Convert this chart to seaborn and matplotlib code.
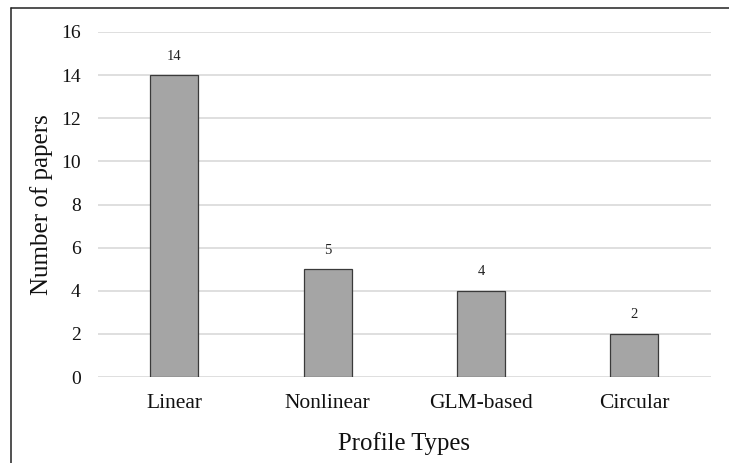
import matplotlib
matplotlib.use("Agg")
import matplotlib.pyplot as plt
import seaborn as sns
import pandas as pd
from matplotlib.lines import Line2D

categories = ["Linear", "Nonlinear", "GLM-based", "Circular"]
counts = [14, 5, 4, 2]
yticks = [0, 2, 4, 6, 8, 10, 12, 14, 16]

df = pd.DataFrame({"Profile Types": categories, "Number of papers": counts})

sns.set_theme(style="white")
plt.rcParams["font.family"] = ["Liberation Serif", "DejaVu Serif"]
plt.rcParams["text.color"] = "#111111"
plt.rcParams["axes.labelcolor"] = "#111111"
plt.rcParams["xtick.color"] = "#111111"
plt.rcParams["ytick.color"] = "#111111"

fig = plt.figure(figsize=(7.29, 4.63), dpi=100)
ax = fig.add_axes([97.5 / 729, 1 - 377 / 463, (711 - 97.5) / 729, (377 - 32) / 463])

sns.barplot(data=df, x="Profile Types", y="Number of papers", color="#A5A5A5",
            width=0.313, edgecolor="#3a3a3a", linewidth=0.9, ax=ax, zorder=3,
            saturation=1)

ax.set_ylim(0, 16)
ax.set_xlim(-0.5, len(categories) - 0.5)
ax.set_yticks(yticks)
ax.set_yticklabels([str(t) for t in yticks], fontsize=14)
ax.tick_params(axis="x", labelsize=15.5, length=0, pad=12)
ax.tick_params(axis="y", length=0, pad=12)
ax.yaxis.grid(True, color="#D9D9D9", linewidth=1.2, zorder=0)
ax.set_axisbelow(True)
for s in ax.spines.values():
    s.set_visible(False)

for i, v in enumerate(counts):
    ax.annotate(str(v), (i, v), xytext=(0, 9), textcoords="offset points",
                ha="center", va="bottom", fontsize=10.5, color="#222222")

ax.set_xlabel("Profile Types", fontsize=17.8, labelpad=14)
ax.set_ylabel("Number of papers", fontsize=18, labelpad=6)

# outer frame (only left and top edges visible in the reference)
fig.lines.append(Line2D([11 / 729, 11 / 729], [0, 1 - 8 / 463], transform=fig.transFigure,
                        color="#222222", linewidth=1.1))
fig.lines.append(Line2D([11 / 729, 1], [1 - 8 / 463, 1 - 8 / 463], transform=fig.transFigure,
                        color="#222222", linewidth=1.1))

fig.savefig("out.png", dpi=100)
